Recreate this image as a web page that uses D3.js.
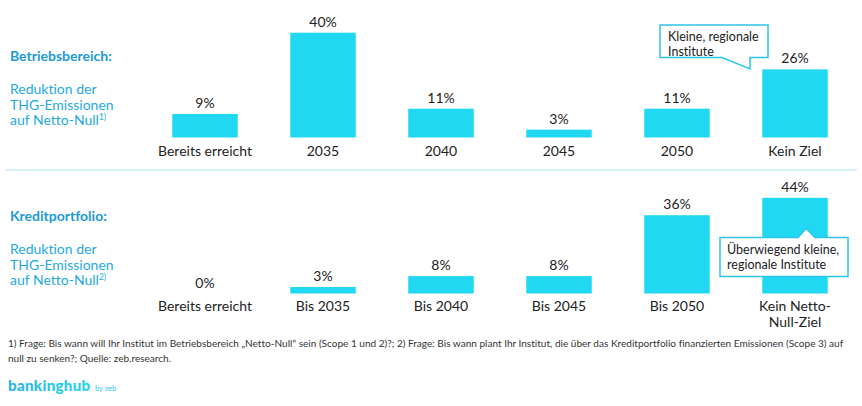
<!DOCTYPE html>
<html>
<head>
<meta charset="utf-8">
<script src="https://cdn.jsdelivr.net/npm/d3@7"></script>
<style>
  html, body { margin: 0; padding: 0; background: #fff; }
  svg { display: block; }
  text { font-family: Lato, "Noto Sans", sans-serif; font-variant-ligatures: none; }
</style>
</head>
<body>
<svg id="chart" width="862" height="406"></svg>
<script>
// ---- data ----
const categoriesTop = ["Bereits erreicht", "2035", "2040", "2045", "2050", "Kein Ziel"];
const valuesTop = [9, 40, 11, 3, 11, 26];
const categoriesBottom = ["Bereits erreicht", "Bis 2035", "Bis 2040", "Bis 2045", "Bis 2050", "Kein Netto-|Null-Ziel"];
const valuesBottom = [0, 3, 8, 8, 36, 44];
const titleTop = "Betriebsbereich:";
const titleBottom = "Kreditportfolio:";
const subtitleTop = ["Reduktion der", "THG-Emissionen", "auf Netto-Null"];
const subtitleBottom = ["Reduktion der", "THG-Emissionen", "auf Netto-Null"];
const calloutTop = ["Kleine, regionale", "Institute"];
const calloutBottom = ["Überwiegend kleine,", "regionale Institute"];
const footnote = [
  "1) Frage: Bis wann will Ihr Institut im Betriebsbereich \u201ENetto-Null\u201C sein (Scope 1 und 2)?; 2) Frage: Bis wann plant Ihr Institut, die über das Kreditportfolio finanzierten Emissionen (Scope 3) auf",
  "null zu senken?; Quelle: zeb.research."
];

const barColor = "#20d8f2";
const titleColor = "#1a9ad6";
const subColor = "#1fa9e3";
const textColor = "#222";

const svg = d3.select("#chart");

const x = d3.scaleBand().domain(d3.range(6)).range([146, 854]).paddingInner(0.445).paddingOuter(0.2225);

function panel(cats, vals, y, catY, titleY, title, subs, sup) {
  const g = svg.append("g");
  g.selectAll("rect").data(vals).join("rect")
    .attr("x", (d, i) => x(i))
    .attr("width", x.bandwidth())
    .attr("y", d => y(d))
    .attr("height", d => y(0) - y(d))
    .attr("fill", barColor);
  g.selectAll("text.val").data(vals).join("text")
    .attr("class", "val")
    .attr("x", (d, i) => x(i) + x.bandwidth() / 2)
    .attr("y", d => y(d) - 6)
    .attr("text-anchor", "middle")
    .attr("font-size", 14)
    .attr("fill", textColor)
    .text(d => d + "%");
  cats.forEach((c, i) => {
    const lines = c.split("|");
    lines.forEach((l, j) => {
      g.append("text")
        .attr("x", x(i) + x.bandwidth() / 2)
        .attr("y", catY + j * 16)
        .attr("text-anchor", "middle")
        .attr("font-size", 14)
        .attr("fill", textColor)
        .text(l);
    });
  });
  g.append("text").attr("x", 10).attr("y", titleY)
    .attr("font-size", 14).attr("font-weight", "bold").attr("fill", titleColor).text(title);
  subs.forEach((s, j) => {
    const t = g.append("text").attr("x", 10).attr("y", titleY + 33 + j * 15.5)
      .attr("font-size", 14).attr("fill", subColor).text(s);
    if (j === subs.length - 1) {
      t.append("tspan").attr("font-size", 8.5).attr("dy", -5).text(sup);
    }
  });
}

const yTop = d3.scaleLinear().domain([0, 40]).range([137.5, 32.7]);
const yBot = d3.scaleLinear().domain([0, 44]).range([293.5, 197.8]);

panel(categoriesTop, valuesTop, yTop, 156, 61, titleTop, subtitleTop, "1)");
panel(categoriesBottom, valuesBottom, yBot, 311, 221, titleBottom, subtitleBottom, "2)");

// separator
svg.append("line").attr("x1", 5).attr("x2", 857).attr("y1", 170).attr("y2", 170)
  .attr("stroke", "#c4eef8").attr("stroke-width", 1.5);

// callout top
const calloutStroke = "#2cc4ea";
svg.append("path")
  .attr("d", "M660,25 H768 V57.5 H750 V69 L722,57.5 H660 Z")
  .attr("fill", "#fff").attr("stroke", calloutStroke).attr("stroke-width", 1.5);
calloutTop.forEach((t, j) => {
  svg.append("text").attr("x", 668).attr("y", 41 + j * 14.5)
    .attr("font-size", 12.5).attr("fill", textColor).text(t);
});

// callout bottom
svg.append("path")
  .attr("d", "M720,237.5 H798 L806,228.5 L815,237.5 H848 V276.5 H720 Z")
  .attr("fill", "#fff").attr("stroke", calloutStroke).attr("stroke-width", 1.5);
calloutBottom.forEach((t, j) => {
  svg.append("text").attr("x", 727).attr("y", 254 + j * 14.5)
    .attr("font-size", 12.5).attr("fill", textColor).text(t);
});

// fit helper: shrink font so natural width fits target
function fit(sel, base, target) {
  sel.attr("font-size", base);
  const w = sel.node().getComputedTextLength();
  if (w > target) sel.attr("font-size", base * target / w);
}

// footnote (both lines same size)
const fnEls = footnote.map((t, j) =>
  svg.append("text").attr("x", 8).attr("y", 347 + j * 15).attr("fill", "#333").text(t));
fit(fnEls[0], 10.5, 836);
fnEls[1].attr("font-size", fnEls[0].attr("font-size"));

// logo
const grad = svg.append("defs").append("linearGradient").attr("id", "lg").attr("x1", "0").attr("x2", "1");
grad.append("stop").attr("offset", "0").attr("stop-color", "#27b4e6");
grad.append("stop").attr("offset", "1").attr("stop-color", "#22d4f1");
const logo = svg.append("text").attr("x", 8).attr("y", 391).attr("font-weight", 900)
  .attr("fill", "url(#lg)").attr("letter-spacing", 0.3).text("bankinghub");
fit(logo, 19, 82);
svg.append("text").attr("x", 95).attr("y", 391).attr("font-size", 7.5).attr("fill", "#2ac8ee").text("by zeb");
</script>
</body>
</html>
